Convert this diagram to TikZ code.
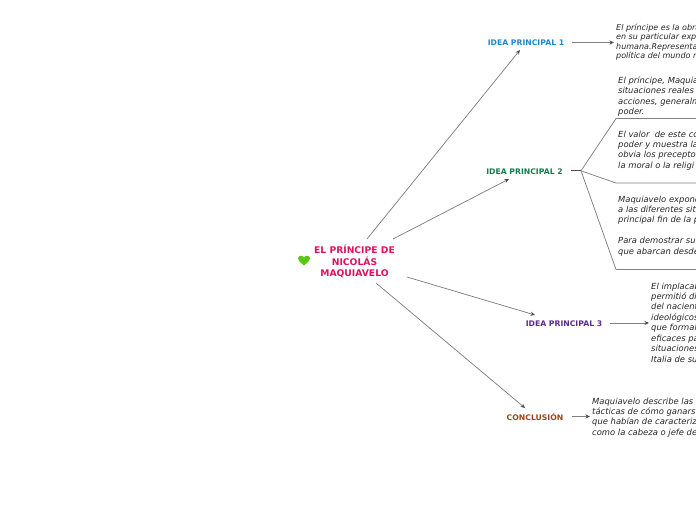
\documentclass[tikz,border=0pt]{standalone}
\usepackage{fontspec}
\setmainfont{DejaVu Sans}
\usetikzlibrary{arrows.meta}
\definecolor{rootc}{HTML}{E0115F}
\definecolor{ideaA}{HTML}{1E88C8}
\definecolor{ideaB}{HTML}{12804A}
\definecolor{ideaC}{HTML}{5B2A8C}
\definecolor{ideaD}{HTML}{9A4416}
\definecolor{linec}{HTML}{808080}
\definecolor{heartc}{HTML}{58C810}
\tikzset{
  link/.style={draw=linec,line width=0.75pt,-{Stealth[length=4.5pt,width=4pt,color=black!70]}},
  plain/.style={draw=linec,line width=0.75pt},
  idea/.style={inner sep=0pt,font=\fontsize{7.7}{9}\selectfont\bfseries},
  rootbox/.style={inner sep=0pt,align=center,text=rootc,font=\fontsize{9.2}{11.4}\selectfont\bfseries},
  body/.style={anchor=north west,inner sep=0pt,align=left,text=black!85,font=\fontsize{8.4}{10.45}\selectfont\itshape},
  bodytight/.style={body,font=\fontsize{8}{9.5}\selectfont\itshape}
}
\begin{document}
\begin{tikzpicture}[x=1pt,y=-1pt]
\useasboundingbox (0,0) rectangle (696,520);
\clip (0,0) rectangle (696,520);
\node[rootbox] (root) at (354.5,261.5) {EL PRÍNCIPE DE\\NICOLÁS\\MAQUIAVELO};
\fill[heartc] (304,265.5) .. controls (300,262) and (298,260.5) .. (298,258.5) .. controls (298,255.5) and (302.5,254.5) .. (304,257.5) .. controls (305.5,254.5) and (310,255.5) .. (310,258.5) .. controls (310,260.5) and (308,262) .. (304,265.5) -- cycle;
\node[idea,text=ideaA] (i1) at (526,42.8) {IDEA PRINCIPAL 1};
\node[idea,text=ideaB] (i2) at (524.5,171.8) {IDEA PRINCIPAL 2};
\node[idea,text=ideaC] (i3) at (564,323.8) {IDEA PRINCIPAL 3};
\node[idea,text=ideaD] (i4) at (535,417.3) {CONCLUSIÓN};
\node[bodytight] (t1) at (616,23.5) {El príncipe es la obra\\en su particular exp\\humana.Representa\\política del mundo m};
\node[body] (t2) at (618,76.5) {El príncipe, Maquia\\situaciones reales\\acciones, generalm\\poder.};
\node[body] (t3) at (618,130.5) {El valor\ \ de este co\\poder y muestra la\\obvia los precepto\\la moral o la religi};
\node[body] (t4) at (618,195.5) {Maquiavelo expone\\a las diferentes sit\\principal fin de la p\\[10.45pt]Para demostrar su\\que abarcan desde};
\node[body] (t5) at (651,282.5) {El implacabl\\permitió di\\del nacient\\ideológicos\\que formal\\eficaces pa\\situaciones\\Italia de su};
\node[body] (t6) at (592,397.5) {Maquiavelo describe las\\tácticas de cómo ganars\\que habían de caracteriz\\como la cabeza o jefe de};
\coordinate (r1) at (367,239);
\coordinate (r2) at (393,239);
\coordinate (r3) at (407,277);
\coordinate (r4) at (376,283);
\coordinate (e1) at (520,50);
\coordinate (e2) at (509,179);
\coordinate (e3) at (535,315);
\coordinate (e4) at (525,408);
\draw[link] (r1) -- (e1);
\draw[link] (r2) -- (e2);
\draw[link] (r3) -- (e3);
\draw[link] (r4) -- (e4);
\coordinate (a1) at (572,42.5);
\coordinate (b1) at (614,42.5);
\coordinate (a3) at (610,323);
\coordinate (b3) at (649,323);
\coordinate (a4) at (572,416.5);
\coordinate (b4) at (590,416.5);
\draw[link] (a1) -- (b1);
\draw[link] (a3) -- (b3);
\draw[link] (a4) -- (b4);
\coordinate (a2) at (570.5,170.8);
\coordinate (h2) at (581,170.8);
\coordinate (k1) at (616,118.5);
\coordinate (k2) at (616,183);
\coordinate (k3) at (616,269.5);
\coordinate (m1) at (696,118.5);
\coordinate (m2) at (696,183);
\coordinate (m3) at (696,269.5);
\draw[plain,line width=1.3pt,draw=black!70] (a2) -- (h2);
\draw[plain] (h2) -- (k1) -- (m1);
\draw[plain] (h2) -- (k2) -- (m2);
\draw[plain] (h2) -- (k3) -- (m3);
\end{tikzpicture}
\end{document}
